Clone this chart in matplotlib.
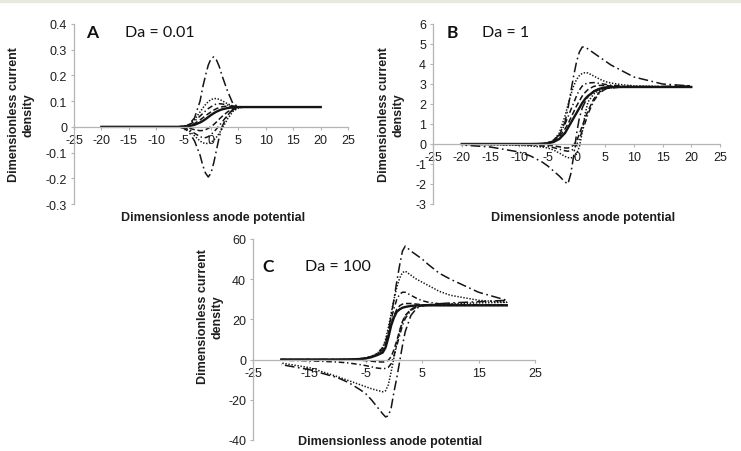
import matplotlib
matplotlib.use('Agg')
import matplotlib.pyplot as plt
from matplotlib.patches import Rectangle

plt.rcParams['font.family'] = ['Liberation Sans', 'DejaVu Sans']
plt.rcParams['lines.scale_dashes'] = False

# potential grid shared by every branch
x_grid = [-20, -15, -10, -8, -6, -5, -4, -3, -2, -1.5, -1, -0.5, 0, 0.5, 1, 1.5, 2, 3, 4, 5, 6, 8, 10, 15, 20]

# panel A, Da = 0.01
a_solid = [0, 0, 0, 0, 0, 0.001, 0.003, 0.008, 0.017, 0.023, 0.030, 0.038, 0.046, 0.053, 0.059, 0.064, 0.068, 0.073, 0.076, 0.077, 0.077, 0.077, 0.077, 0.077, 0.077]
a_dash_fwd = [0, 0, 0, 0, 0, 0.001, 0.004, 0.013, 0.027, 0.035, 0.043, 0.051, 0.058, 0.065, 0.071, 0.075, 0.078, 0.081, 0.080, 0.078, 0.077, 0.077, 0.077, 0.077, 0.077]
a_dash_rev = [0, 0, 0, 0, 0, -0.001, -0.005, -0.011, -0.015, -0.014, -0.011, -0.006, 0.001, 0.009, 0.019, 0.030, 0.040, 0.058, 0.071, 0.076, 0.077, 0.077, 0.077, 0.077, 0.077]
a_dashdot_fwd = [0, 0, 0, 0, 0, 0.002, 0.007, 0.022, 0.042, 0.052, 0.062, 0.071, 0.078, 0.085, 0.089, 0.090, 0.089, 0.085, 0.080, 0.078, 0.077, 0.077, 0.077, 0.077, 0.077]
a_dashdot_rev = [0, 0, 0, 0, 0, -0.003, -0.010, -0.025, -0.038, -0.042, -0.042, -0.038, -0.030, -0.020, -0.008, 0.005, 0.018, 0.045, 0.066, 0.075, 0.077, 0.077, 0.077, 0.077, 0.077]
a_dot_fwd = [0, 0, 0, 0, 0, 0.002, 0.008, 0.028, 0.058, 0.073, 0.087, 0.098, 0.106, 0.110, 0.110, 0.107, 0.102, 0.090, 0.081, 0.078, 0.077, 0.077, 0.077, 0.077, 0.077]
a_dot_rev = [0, 0, 0, 0, 0, -0.004, -0.015, -0.035, -0.055, -0.062, -0.065, -0.064, -0.060, -0.052, -0.040, -0.025, -0.008, 0.030, 0.060, 0.073, 0.077, 0.077, 0.077, 0.077, 0.077]
a_ldd_fwd = [0, 0, 0, 0, 0, 0.002, 0.010, 0.035, 0.100, 0.155, 0.200, 0.240, 0.265, 0.272, 0.260, 0.235, 0.200, 0.140, 0.090, 0.079, 0.077, 0.077, 0.077, 0.077, 0.077]
a_ldd_rev = [0, 0, 0, 0, 0, -0.005, -0.020, -0.055, -0.110, -0.150, -0.180, -0.195, -0.180, -0.140, -0.090, -0.040, 0.000, 0.045, 0.068, 0.075, 0.077, 0.077, 0.077, 0.077, 0.077]

# panel B, Da = 1
b_solid = [0, 0, 0, 0, 0.01, 0.03, 0.10, 0.25, 0.55, 0.80, 1.05, 1.30, 1.55, 1.80, 2.05, 2.25, 2.40, 2.62, 2.76, 2.83, 2.85, 2.85, 2.85, 2.85, 2.85]
b_dash_fwd = [0, 0, 0, 0, 0.01, 0.04, 0.13, 0.36, 0.75, 1.00, 1.30, 1.60, 1.90, 2.15, 2.40, 2.58, 2.72, 2.88, 2.93, 2.92, 2.90, 2.87, 2.86, 2.85, 2.85]
b_dash_rev = [0, 0, -0.01, -0.02, -0.04, -0.06, -0.09, -0.14, -0.20, -0.20, -0.16, -0.05, 0.15, 0.50, 0.90, 1.30, 1.65, 2.25, 2.60, 2.76, 2.82, 2.85, 2.85, 2.85, 2.85]
b_dashdot_fwd = [0, 0, 0, 0, 0.01, 0.05, 0.16, 0.45, 1.00, 1.35, 1.70, 2.05, 2.40, 2.70, 2.90, 3.00, 3.05, 3.07, 3.03, 2.98, 2.94, 2.90, 2.88, 2.86, 2.85]
b_dashdot_rev = [-0.01, -0.02, -0.04, -0.06, -0.10, -0.13, -0.18, -0.26, -0.34, -0.36, -0.34, -0.25, -0.05, 0.25, 0.65, 1.05, 1.50, 2.15, 2.55, 2.74, 2.81, 2.85, 2.85, 2.85, 2.85]
b_dot_fwd = [0, 0, 0, 0, 0.02, 0.06, 0.17, 0.55, 1.40, 1.95, 2.45, 2.90, 3.22, 3.42, 3.53, 3.57, 3.55, 3.40, 3.25, 3.12, 3.05, 2.96, 2.91, 2.87, 2.85]
b_dot_rev = [-0.01, -0.03, -0.07, -0.10, -0.15, -0.20, -0.30, -0.45, -0.62, -0.68, -0.70, -0.65, -0.50, -0.15, 0.60, 1.50, 2.10, 2.50, 2.68, 2.77, 2.81, 2.84, 2.85, 2.85, 2.85]
b_ldd_fwd = [0, 0, 0, 0, 0.02, 0.07, 0.20, 0.45, 1.10, 1.75, 2.60, 3.40, 4.10, 4.60, 4.85, 4.85, 4.75, 4.55, 4.35, 4.15, 3.95, 3.65, 3.35, 3.00, 2.90]
b_ldd_rev = [-0.05, -0.15, -0.40, -0.60, -0.90, -1.10, -1.35, -1.60, -1.90, -2.00, -1.50, -0.60, 0.50, 1.30, 1.80, 2.10, 2.35, 2.65, 2.78, 2.82, 2.84, 2.85, 2.86, 2.88, 2.90]

# panel C, Da = 100
c_solid = [0, 0, 0, 0.05, 0.3, 0.6, 1.2, 2.2, 3.5, 6.0, 11.0, 17.0, 21.0, 23.8, 25.0, 25.8, 26.2, 26.7, 26.9, 27.0, 27.0, 27.0, 27.0, 27.0, 27.0]
c_dash_fwd = [0, 0, 0, 0.05, 0.3, 0.7, 1.4, 2.6, 4.8, 7.5, 12.0, 17.5, 22.0, 25.0, 26.8, 27.6, 27.9, 27.9, 27.6, 27.3, 27.1, 27.0, 27.0, 27.0, 27.0]
c_dash_rev = [0, 0, -0.05, -0.1, -0.3, -0.5, -0.8, -1.1, -1.2, -1.0, -0.3, 1.5, 5.0, 9.5, 14.5, 19.0, 22.0, 25.0, 26.3, 26.8, 27.0, 27.0, 27.0, 27.0, 27.0]
c_dashdot_fwd = [0, 0, 0.02, 0.1, 0.4, 0.8, 1.6, 3.0, 6.0, 9.0, 14.0, 20.0, 25.5, 30.0, 32.5, 33.5, 33.5, 32.0, 30.5, 29.3, 28.6, 27.8, 27.5, 27.2, 27.1]
c_dashdot_rev = [-0.3, -0.6, -1.2, -1.7, -2.5, -3.0, -3.6, -4.2, -4.5, -4.4, -3.8, -2.0, 2.0, 7.0, 12.0, 17.0, 20.5, 24.5, 26.2, 26.8, 27.0, 27.1, 27.1, 27.1, 27.1]
c_dot_fwd = [0, 0, 0.02, 0.1, 0.4, 0.8, 1.6, 3.0, 6.0, 10.0, 16.0, 23.0, 30.0, 36.0, 40.5, 43.3, 44.0, 42.0, 40.0, 38.5, 37.0, 34.0, 32.0, 29.5, 28.5]
c_dot_rev = [-1.7, -4.0, -8.5, -10.5, -12.5, -13.5, -14.5, -15.3, -16.0, -15.5, -12.5, -6.0, 1.0, 8.0, 14.0, 18.5, 21.5, 25.0, 26.5, 27.0, 27.3, 27.6, 27.8, 28.2, 28.5]
c_ldd_fwd = [0, 0, 0.02, 0.1, 0.4, 0.8, 1.5, 2.5, 4.0, 7.0, 14.0, 22.0, 30.0, 39.0, 47.0, 54.0, 56.5, 54.0, 52.0, 50.0, 47.5, 43.0, 40.0, 33.5, 29.5]
c_ldd_rev = [-2.5, -5.0, -9.0, -11.5, -15.0, -17.0, -20.0, -23.5, -27.0, -28.5, -28.0, -24.0, -16.0, -9.0, -1.0, 7.0, 14.0, 22.0, 25.5, 26.8, 27.3, 27.8, 28.2, 28.8, 29.5]

line_color = '#141414'
axis_color = '#b4b4b4'
text_color = '#1e1e1e'
styles = {
    'dash': (0, (4, 2)),
    'dashdot': (0, (4, 2, 1, 2)),
    'dot': (0, (1, 1.2)),
    'ldd': (0, (7, 2.5, 1.2, 2.5)),
}

W, H = 741, 452
fig = plt.figure(figsize=(W / 100, H / 100), dpi=100)
fig.patches.append(Rectangle((0, 1 - 3 / H), 1, 3 / H, transform=fig.transFigure,
                             color='#e7e9dc', zorder=0))


def px_axes(x0, x1, y0, y1):
    # axes box from pixel corners
    return fig.add_axes([x0 / W, 1 - y1 / H, (x1 - x0) / W, (y1 - y0) / H])


def loop(ax, fwd, rev, style):
    xs = x_grid + x_grid[::-1]
    ys = fwd + rev[::-1]
    ax.plot(xs, ys, color=line_color, lw=1.1, linestyle=styles[style])


def draw_panel(ax, solid, pairs, yticks, xticks):
    for fwd, rev, style in pairs:
        loop(ax, fwd, rev, style)
    ax.plot(x_grid, solid, color=line_color, lw=1.7)
    ax.set_xlim(-25, 25)
    ax.set_ylim(yticks[0], yticks[-1])
    ax.set_yticks(yticks)
    ax.set_yticklabels(['%g' % v for v in yticks])
    ax.set_xticks(xticks)
    ax.set_xticklabels(['%g' % v for v in xticks])
    for pos in ['top', 'right']:
        ax.spines[pos].set_visible(False)
    ax.spines['bottom'].set_position(('data', 0))
    for pos in ['left', 'bottom']:
        ax.spines[pos].set_color(axis_color)
        ax.spines[pos].set_linewidth(0.9)
    ax.tick_params(axis='y', length=2.5, width=0.8, color=axis_color, pad=2.5,
                   labelsize=9, labelcolor=text_color)
    ax.tick_params(axis='x', length=2, width=0.8, color=axis_color, pad=3,
                   labelsize=9, labelcolor=text_color)
    ax.patch.set_alpha(0)


axA = px_axes(74, 348, 25, 205)
draw_panel(axA, a_solid,
           [(a_dash_fwd, a_dash_rev, 'dash'), (a_dashdot_fwd, a_dashdot_rev, 'dashdot'),
            (a_dot_fwd, a_dot_rev, 'dot'), (a_ldd_fwd, a_ldd_rev, 'ldd')],
           [-0.3, -0.2, -0.1, 0, 0.1, 0.2, 0.3, 0.4], list(range(-25, 26, 5)))

axB = px_axes(433, 720, 25, 205)
draw_panel(axB, b_solid,
           [(b_dash_fwd, b_dash_rev, 'dash'), (b_dashdot_fwd, b_dashdot_rev, 'dashdot'),
            (b_dot_fwd, b_dot_rev, 'dot'), (b_ldd_fwd, b_ldd_rev, 'ldd')],
           list(range(-3, 7)), list(range(-25, 26, 5)))

axC = px_axes(253, 535, 240, 441)
draw_panel(axC, c_solid,
           [(c_dash_fwd, c_dash_rev, 'dash'), (c_dashdot_fwd, c_dashdot_rev, 'dashdot'),
            (c_dot_fwd, c_dot_rev, 'dot'), (c_ldd_fwd, c_ldd_rev, 'ldd')],
           list(range(-40, 61, 20)), list(range(-25, 26, 10)))


def ftext(x, y, s, **kw):
    fig.text(x / W, 1 - y / H, s, **kw)


ylab = 'Dimensionless current\ndensity'
xlab = 'Dimensionless anode potential'
for (yx, yy), (xx, xy) in [((21, 115), (213, 218)), ((391, 115), (583, 218)), ((210, 317), (390, 442))]:
    ftext(yx, yy, ylab, rotation=90, ha='center', va='center', fontsize=9,
          fontweight='bold', linespacing=1.25, color=text_color)
    ftext(xx, xy, xlab, ha='center', va='center', fontsize=9, fontweight='bold', color=text_color)

for lx, tx, y, letter, da in [(92, 125, 33, 'A', 'Da = 0.01'), (452, 482, 33, 'B', 'Da = 1'),
                              (268, 305, 267, 'C', 'Da = 100')]:
    ftext(lx, y, letter, ha='center', va='center', fontsize=12.5, fontweight='bold',
          family=['Lato', 'DejaVu Sans'], color='#111111')
    ftext(tx, y, da, ha='left', va='center', fontsize=11.5,
          family=['Lato', 'DejaVu Sans'], color='#111111')

fig.savefig('out.png', dpi=100)
